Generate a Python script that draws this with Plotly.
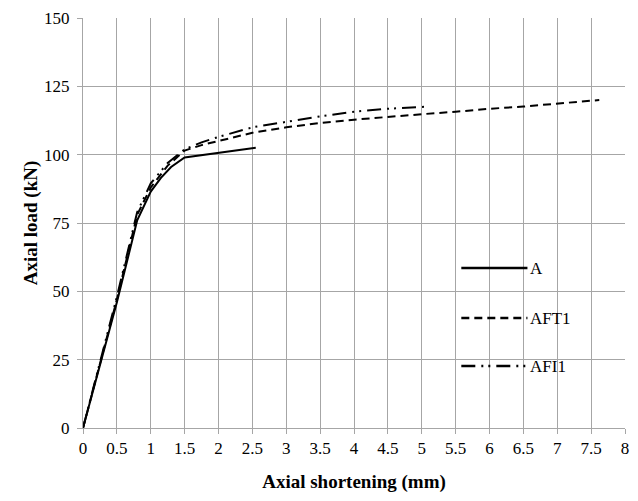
import plotly.graph_objects as go

# Data
a_x = [0, 0.25, 0.5, 0.8, 0.9, 1.0, 1.15, 1.3, 1.5, 2.0, 2.55]
a_y = [0, 23, 46, 76, 81, 86.5, 91.5, 95.5, 99, 100.7, 102.5]

aft1_x = [0, 0.5, 0.8, 1.0, 1.25, 1.5, 1.75, 2.0, 2.5, 3.0, 3.5, 4.0, 4.5, 5.0, 5.5, 6.0, 6.5, 7.0, 7.62]
aft1_y = [0, 47, 78, 88, 96, 101.5, 103.5, 105, 108, 110, 111.6, 112.8, 113.9, 114.8, 115.7, 116.8, 117.6, 118.6, 120]

afi1_x = [0, 0.5, 0.8, 1.0, 1.25, 1.5, 1.75, 2.0, 2.5, 3.0, 3.5, 4.0, 4.5, 5.1]
afi1_y = [0, 48, 79, 89.5, 97, 102, 104.5, 106.5, 110, 112, 114, 115.7, 116.8, 117.6]

names = ["A", "AFT1", "AFI1"]
dashes = ["solid", "8px,5px", "14px,6px,2px,5px,2px,6px"]

x_ticks = [i * 0.5 for i in range(17)]
x_labels = ["0", "0.5", "1", "1.5", "2", "2.5", "3", "3.5", "4", "4.5", "5", "5.5", "6", "6.5", "7", "7.5", "8"]
y_ticks = [0, 25, 50, 75, 100, 125, 150]

font = "Liberation Serif"

fig = go.Figure()
for xs, ys, nm, ds in zip([a_x, aft1_x, afi1_x], [a_y, aft1_y, afi1_y], names, dashes):
    fig.add_trace(go.Scatter(x=xs, y=ys, mode="lines", name=nm,
                             line=dict(color="black", width=2, dash=ds),
                             showlegend=False))

# Manual legend (in paper coordinates)
leg_y = [0.390, 0.268, 0.151]
for nm, ds, yy in zip(names, dashes, leg_y):
    fig.add_shape(type="line", xref="paper", yref="paper",
                  x0=0.698, x1=0.820, y0=yy, y1=yy,
                  line=dict(color="black", width=2.5, dash=ds))
    fig.add_annotation(xref="paper", yref="paper", x=0.821, y=yy, text=nm,
                       showarrow=False, xanchor="left", yanchor="middle",
                       font=dict(family=font, size=17, color="black"))

fig.update_layout(
    width=622, height=485,
    margin=dict(l=75, r=5, t=10, b=65),
    paper_bgcolor="white", plot_bgcolor="white",
    font=dict(family=font, size=17, color="black"),
    xaxis=dict(range=[0, 8], tickvals=x_ticks, ticktext=x_labels,
               showgrid=True, gridcolor="#a6a6a6", gridwidth=1,
               showline=True, linecolor="#a6a6a6", linewidth=1,
               ticks="outside", ticklen=5, tickcolor="#a6a6a6",
               zeroline=False, automargin=False, ticklabeloverflow="allow",
               title=dict(text="<b>Axial shortening (mm)</b>", standoff=18,
                          font=dict(family=font, size=19))),
    yaxis=dict(range=[0, 150], tickvals=y_ticks,
               showgrid=True, gridcolor="#a6a6a6", gridwidth=1,
               showline=True, linecolor="#a6a6a6", linewidth=1,
               ticks="outside", ticklen=5, tickcolor="#a6a6a6",
               ticklabelstandoff=4,
               zeroline=False, automargin=False,
               title=dict(text="<b>Axial load (kN)</b>", standoff=1,
                          font=dict(family=font, size=19))),
)

fig.write_html("out.html")
